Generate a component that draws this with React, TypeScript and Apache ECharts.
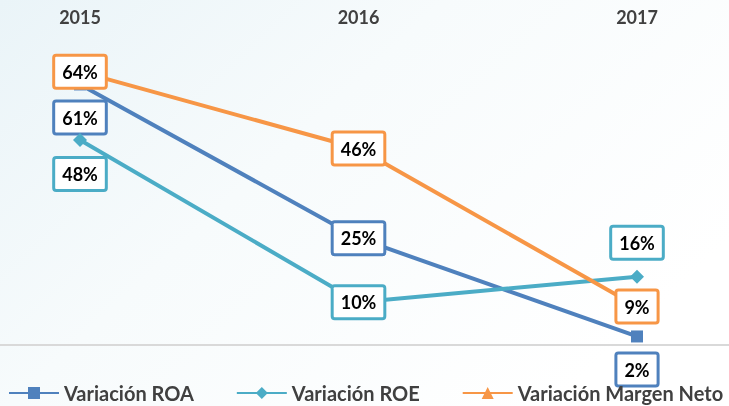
import React, { useEffect, useRef } from "react";
import * as echarts from "echarts";

const years = ["2015", "2016", "2017"];
const roa = [61, 25, 2];
const roe = [48, 10, 16];
const margen = [64, 46, 9];
const seriesNames = ["Variación ROA", "Variación ROE", "Variación Margen Neto"];

const COLORS = ["#4F81BD", "#4BACC6", "#F79646"];
const FONT = "Lato, 'Open Sans', sans-serif";

// label placement per point (style only)
const placements = [
  ["bottom", "inside", "bottom"],
  ["bottom", "inside", "top"],
  ["inside", "inside", "inside"],
];

export default function App() {
  const ref = useRef<HTMLDivElement>(null);
  useEffect(() => {
    if (!ref.current) return;
    const chart = echarts.init(ref.current, undefined, { renderer: "svg" });
    const values = [roa, roe, margen];
    const symbols = ["rect", "diamond", "triangle"];
    const series = values.map((vals, si) => ({
      name: seriesNames[si],
      type: "line",
      data: vals.map((v, i) => ({
        value: v,
        label: { position: placements[si][i] },
      })),
      symbol: symbols[si],
      symbolSize: si === 0 ? 12 : 14,
      showAllSymbol: true,
      lineStyle: { color: COLORS[si], width: 4 },
      itemStyle: { color: COLORS[si] },
      z: 3 + si,
      label: {
        show: true,
        formatter: "{c}%",
        distance: 12,
        color: "#000",
        fontFamily: FONT,
        fontWeight: "bold",
        fontSize: 18,
        lineHeight: 21,
        backgroundColor: "#fff",
        borderColor: COLORS[si],
        borderWidth: 3,
        borderRadius: 1,
        padding: [5, 7, 4, 7],
      },
    }));
    chart.setOption({
      animation: false,
      grid: { left: 80, right: 92, top: 46, bottom: 61 },
      xAxis: {
        type: "category",
        data: years,
        position: "top",
        boundaryGap: false,
        axisLine: { show: false },
        axisTick: { show: false },
        axisLabel: {
          margin: 20,
          color: "#404040",
          fontFamily: FONT,
          fontWeight: "bold",
          fontSize: 18,
        },
      },
      yAxis: {
        type: "value",
        min: 0,
        max: 70,
        show: false,
        splitLine: { show: false },
      },
      legend: {
        bottom: 3,
        left: 8,
        right: 0,
        padding: 0,
        itemWidth: 50,
        itemHeight: 15,
        itemGap: 42,
        textStyle: {
          color: "#404040",
          fontFamily: FONT,
          fontWeight: "bold",
          fontSize: 20,
        },
        data: seriesNames,
      },
      series,
    });
    const zeroY = chart.convertToPixel({ yAxisIndex: 0 }, 0) as number;
    chart.setOption({
      graphic: [
        {
          type: "rect",
          z: -10,
          silent: true,
          shape: { x: 0, y: 0, width: 729, height: 406 },
          style: {
            fill: new echarts.graphic.LinearGradient(0, 0, 1, 0.6, [
              { offset: 0, color: "#EAF4F8" },
              { offset: 0.45, color: "#F7FBFC" },
              { offset: 1, color: "#FFFFFF" },
            ]),
          },
        },
        {
          type: "line",
          z: 1,
          silent: true,
          shape: { x1: 0, y1: zeroY, x2: 729, y2: zeroY },
          style: { stroke: "#D9D9D9", lineWidth: 2 },
        },
      ],
    });
    return () => chart.dispose();
  }, []);
  return (
    <div
      ref={ref}
      style={{ position: "fixed", left: 0, top: 0, width: 729, height: 406 }}
    />
  );
}
